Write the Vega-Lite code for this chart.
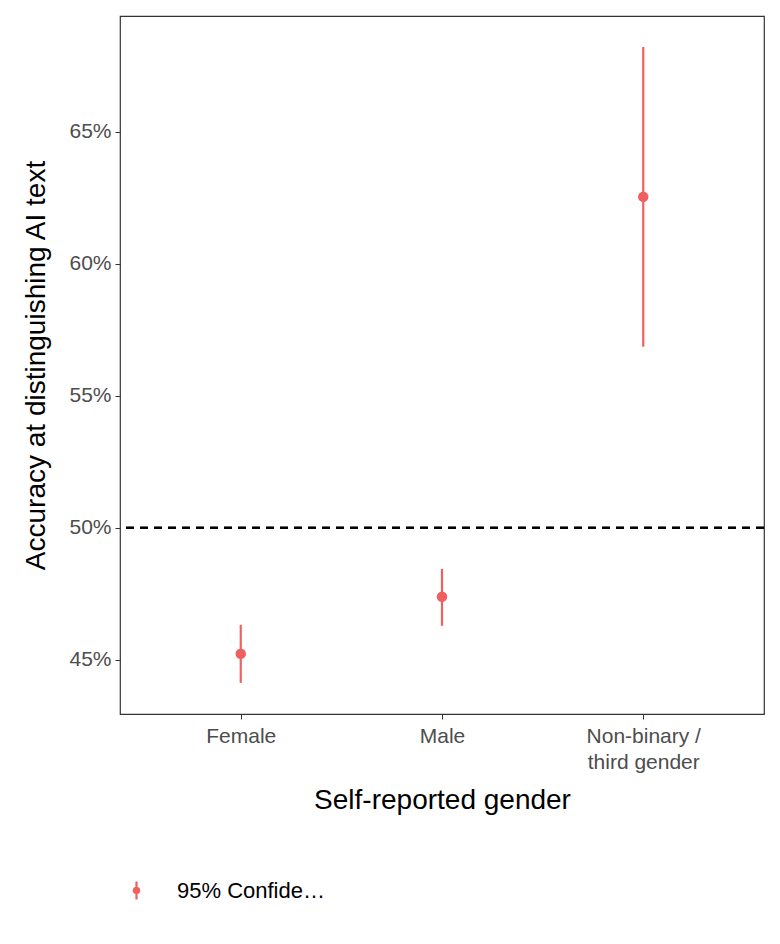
{
  "$schema": "https://vega.github.io/schema/vega-lite/v6.json",
  "width": 644,
  "height": 698,
  "autosize": {"type": "none"},
  "padding": {"left": 120, "top": 16, "right": 16, "bottom": 230},
  "background": "white",
  "config": {
    "font": "Liberation Sans",
    "view": {"stroke": "#333333", "strokeWidth": 1.2},
    "axis": {"grid": false, "domain": false, "tickColor": "#333333", "tickSize": 5, "labelColor": "#4d4d4d", "labelFontSize": 21, "labelFont": "Liberation Sans", "titleFontSize": 28, "titleFontWeight": "normal", "titleColor": "black", "titleFont": "Liberation Sans"}
  },
  "data": {"values": [
    {"gender": "Female", "acc": 0.4523, "lo": 0.4413, "hi": 0.4633, "series": "95% Confidence Interval"},
    {"gender": "Male", "acc": 0.4739, "lo": 0.4629, "hi": 0.4845, "series": "95% Confidence Interval"},
    {"gender": "Non-binary /\nthird gender", "acc": 0.6254, "lo": 0.5686, "hi": 0.6822, "series": "95% Confidence Interval"}
  ]},
  "layer": [
    {
      "mark": {"type": "rule", "strokeDash": [8, 6], "strokeWidth": 2.2, "color": "black"},
      "encoding": {"y": {"datum": 0.5, "type": "quantitative"}}
    },
    {
      "mark": {"type": "rule", "strokeWidth": 2.2},
      "encoding": {
        "x": {"field": "gender", "type": "nominal", "sort": null},
        "y": {"field": "lo", "type": "quantitative"},
        "y2": {"field": "hi"},
        "color": {"field": "series", "type": "nominal", "scale": {"range": ["#F06060"]}}
      }
    },
    {
      "mark": {"type": "point", "filled": true, "size": 110, "opacity": 1},
      "encoding": {
        "x": {"field": "gender", "type": "nominal", "sort": null,
          "scale": {"type": "point", "padding": 0.6},
          "axis": {"title": "Self-reported gender", "labelAngle": 0, "labelAlign": "center", "labelBaseline": "top", "labelExpr": "split(datum.label, '\\n')", "labelPadding": 6, "labelLineHeight": 26, "titlePadding": 14}},
        "y": {"field": "acc", "type": "quantitative",
          "scale": {"domain": [0.4295, 0.6939], "nice": false, "zero": false},
          "axis": {"title": "Accuracy at distinguishing AI text", "format": ".0%", "values": [0.45, 0.5, 0.55, 0.6, 0.65], "labelPadding": 4, "titlePadding": 18}},
        "color": {"field": "series", "type": "nominal", "scale": {"range": ["#F06060"]},
          "legend": {"title": null, "orient": "bottom", "direction": "horizontal", "offset": 60, "labelFontSize": 22, "labelColor": "black", "labelFont": "Liberation Sans", "symbolSize": 900, "symbolStrokeWidth": 2.2, "symbolFillColor": "#F06060", "symbolStrokeColor": "#F06060", "labelOffset": 24,
            "symbolType": "M0,-0.6V0.6M0.18,0A0.18,0.18 0 1,1 -0.18,0A0.18,0.18 0 1,1 0.18,0Z"}}
      }
    }
  ]
}
